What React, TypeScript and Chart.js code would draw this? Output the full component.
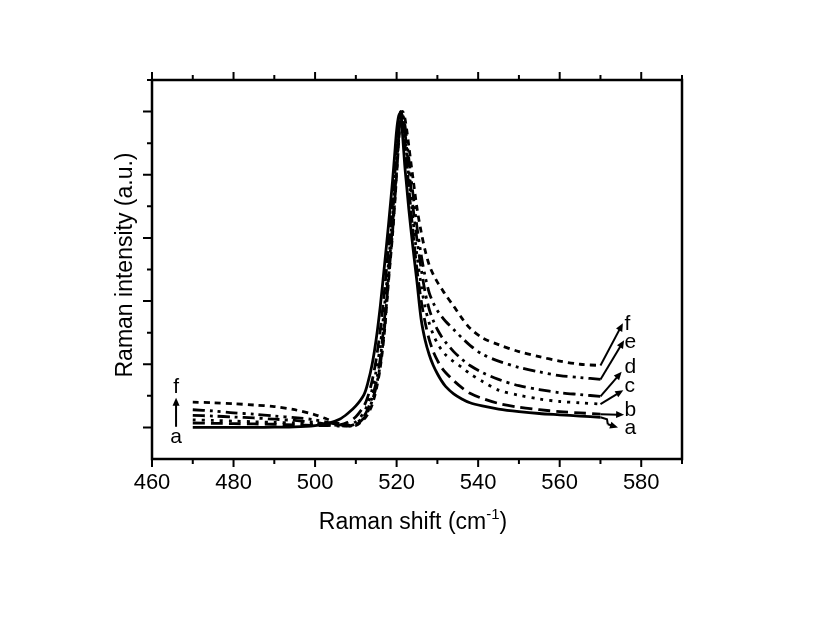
import React, { useEffect, useRef } from 'react';
import { Chart, registerables } from 'chart.js';

Chart.register(...registerables);

// ---- data ----
const RAMAN_SHIFT = [470, 475, 480, 485, 490, 495, 500, 503, 506, 508, 510, 512, 513, 514, 515, 516, 517, 518, 519, 519.5, 520, 520.5, 521, 521.5, 522, 522.5, 523, 524, 525, 526, 527, 528, 529, 530, 531, 532, 534, 536, 538, 541, 545, 550, 555, 560, 565, 570];

const CURVE_A = [0, 0, 0, 0, 0.005, 0.01, 0.03, 0.06, 0.13, 0.22, 0.34, 0.52, 0.72, 1.0, 1.4, 1.92, 2.55, 3.2, 3.9, 4.3, 4.7, 4.93, 4.98, 4.6, 4.15, 3.8, 3.45, 2.85, 2.3, 1.72, 1.38, 1.15, 0.98, 0.85, 0.74, 0.65, 0.53, 0.45, 0.39, 0.34, 0.29, 0.25, 0.22, 0.2, 0.18, 0.16];
const CURVE_B = [0.07, 0.065, 0.06, 0.055, 0.05, 0.04, 0.03, 0.03, 0.04, 0.08, 0.17, 0.34, 0.5, 0.74, 1.08, 1.55, 2.15, 2.85, 3.55, 3.95, 4.4, 4.8, 5.0, 4.85, 4.5, 4.15, 3.8, 3.1, 2.5, 2.02, 1.66, 1.39, 1.2, 1.06, 0.95, 0.87, 0.74, 0.63, 0.54, 0.46, 0.38, 0.32, 0.28, 0.25, 0.23, 0.21];
const CURVE_C = [0.12, 0.11, 0.1, 0.09, 0.08, 0.07, 0.05, 0.04, 0.02, 0.03, 0.09, 0.24, 0.39, 0.6, 0.9, 1.3, 1.9, 2.6, 3.35, 3.8, 4.25, 4.7, 5.0, 4.9, 4.6, 4.3, 3.95, 3.3, 2.72, 2.26, 1.9, 1.65, 1.47, 1.33, 1.23, 1.15, 1.04, 0.95, 0.85, 0.73, 0.59, 0.51, 0.45, 0.41, 0.39, 0.37];
const CURVE_D = [0.19, 0.18, 0.165, 0.15, 0.13, 0.11, 0.08, 0.05, 0.03, 0.02, 0.06, 0.18, 0.3, 0.48, 0.72, 1.1, 1.7, 2.45, 3.2, 3.65, 4.1, 4.6, 4.98, 4.92, 4.7, 4.4, 4.1, 3.5, 2.97, 2.52, 2.14, 1.87, 1.69, 1.55, 1.44, 1.35, 1.2, 1.08, 0.98, 0.87, 0.76, 0.66, 0.6, 0.55, 0.52, 0.49];
const CURVE_E = [0.28, 0.26, 0.23, 0.21, 0.18, 0.155, 0.12, 0.08, 0.04, 0.02, 0.04, 0.15, 0.26, 0.42, 0.65, 1.0, 1.55, 2.35, 3.1, 3.55, 4.05, 4.55, 4.97, 4.95, 4.8, 4.55, 4.25, 3.7, 3.17, 2.74, 2.39, 2.13, 1.97, 1.85, 1.76, 1.68, 1.55, 1.42, 1.3, 1.16, 1.05, 0.95, 0.88, 0.82, 0.79, 0.76];
const CURVE_F = [0.4, 0.39, 0.375, 0.355, 0.33, 0.28, 0.2, 0.13, 0.06, 0.04, 0.03, 0.13, 0.22, 0.36, 0.6, 0.95, 1.5, 2.3, 3.05, 3.5, 4.0, 4.5, 4.95, 5.0, 4.9, 4.7, 4.45, 3.95, 3.47, 3.1, 2.8, 2.57, 2.42, 2.3, 2.2, 2.1, 1.92, 1.73, 1.57, 1.42, 1.31, 1.2, 1.12, 1.05, 1.0, 0.98];

const SERIES_LABELS = ['a', 'b', 'c', 'd', 'e', 'f'];
const SERIES_DASH: number[][] = [[], [12, 6], [3, 6], [12, 5, 3, 5], [12, 5, 3, 5, 3, 5], [6, 5]];

// ---- axes ----
const X_MIN = 460;
const X_MAX = 590;
const Y_MIN = -0.5;
const Y_MAX = 5.5;
const X_MAJOR_TICKS = [460, 480, 500, 520, 540, 560, 580];
const X_MINOR_TICKS = [470, 490, 510, 530, 550, 570, 590];
const Y_MAJOR_TICKS = [0, 1, 2, 3, 4, 5];
const Y_MINOR_TICKS = [0.5, 1.5, 2.5, 3.5, 4.5, 5.5];
const X_TITLE = 'Raman shift (cm';
const X_TITLE_SUP = '-1';
const X_TITLE_END = ')';
const Y_TITLE = 'Raman intensity (a.u.)';

// ---- annotations (data units) ----
const RIGHT_TIP_X = [574.3, 575.8, 575.6, 575.2, 575.8, 575.5];
const RIGHT_TIP_Y = [0.0, 0.2, 0.59, 0.88, 1.38, 1.65];
const RIGHT_LABEL_X = 575.9;
const RIGHT_LABEL_Y = [-0.1, 0.18, 0.56, 0.86, 1.25, 1.54];
const A_KINK_X = [571.6, 571.8];
const A_KINK_Y = [0.13, 0.05];
const LEFT_ARROW_X = 465.9;
const LEFT_ARROW_Y = [0.01, 0.47];
const LEFT_LABEL_Y = [-0.24, 0.54];
const LEFT_LABELS = ['a', 'f'];

const FONT = '"Liberation Sans", Arial, Helvetica, sans-serif';

function arrowHead(ctx: CanvasRenderingContext2D, x1: number, y1: number, x2: number, y2: number) {
  const head = 8;
  const half = 3.5;
  const ang = Math.atan2(y2 - y1, x2 - x1);
  const c = Math.cos(ang);
  const s = Math.sin(ang);
  ctx.beginPath();
  ctx.moveTo(x1, y1);
  ctx.lineTo(x2 - head * 0.7 * c, y2 - head * 0.7 * s);
  ctx.stroke();
  ctx.beginPath();
  ctx.moveTo(x2, y2);
  ctx.lineTo(x2 - head * c + half * s, y2 - head * s - half * c);
  ctx.lineTo(x2 - head * c - half * s, y2 - head * s + half * c);
  ctx.closePath();
  ctx.fill();
}

const framePlugin = {
  id: 'frameAndNotes',
  afterDraw(chart: any) {
    const ctx: CanvasRenderingContext2D = chart.ctx;
    const { left, right, top, bottom } = chart.chartArea;
    const xs = chart.scales.x;
    const ys = chart.scales.y;
    ctx.save();
    ctx.strokeStyle = '#000';
    ctx.fillStyle = '#000';
    ctx.lineWidth = 2.5;
    ctx.setLineDash([]);
    ctx.strokeRect(left, top, right - left, bottom - top);

    ctx.lineWidth = 2;
    ctx.beginPath();
    for (const v of X_MAJOR_TICKS) {
      const p = xs.getPixelForValue(v);
      ctx.moveTo(p, bottom); ctx.lineTo(p, bottom + 8);
      ctx.moveTo(p, top); ctx.lineTo(p, top - 8);
    }
    for (const v of X_MINOR_TICKS) {
      const p = xs.getPixelForValue(v);
      ctx.moveTo(p, bottom); ctx.lineTo(p, bottom + 5);
      ctx.moveTo(p, top); ctx.lineTo(p, top - 5);
    }
    for (const v of Y_MAJOR_TICKS) {
      const p = ys.getPixelForValue(v);
      ctx.moveTo(left, p); ctx.lineTo(left - 9, p);
    }
    for (const v of Y_MINOR_TICKS) {
      const p = ys.getPixelForValue(v);
      ctx.moveTo(left, p); ctx.lineTo(left - 5, p);
    }
    ctx.stroke();

    // x title with superscript
    const mainFont = `23px ${FONT}`;
    const supFont = `15px ${FONT}`;
    ctx.font = mainFont;
    const w1 = ctx.measureText(X_TITLE).width;
    const w3 = ctx.measureText(X_TITLE_END).width;
    ctx.font = supFont;
    const w2 = ctx.measureText(X_TITLE_SUP).width;
    const total = w1 + w2 + w3;
    const cx = (left + right) / 2 - 4;
    const base = bottom + 70;
    let sx = cx - total / 2;
    ctx.textAlign = 'left';
    ctx.textBaseline = 'alphabetic';
    ctx.font = mainFont;
    ctx.fillText(X_TITLE, sx, base);
    sx += w1;
    ctx.font = supFont;
    ctx.fillText(X_TITLE_SUP, sx, base - 10);
    sx += w2;
    ctx.font = mainFont;
    ctx.fillText(X_TITLE_END, sx, base);

    // y title
    ctx.save();
    ctx.translate(left - 20, (top + bottom) / 2 - 4.5);
    ctx.rotate(-Math.PI / 2);
    ctx.textAlign = 'center';
    ctx.textBaseline = 'alphabetic';
    ctx.font = mainFont;
    ctx.fillText(Y_TITLE, 0, 0);
    ctx.restore();

    // right-side arrows and labels
    const series = chart.data.datasets;
    ctx.lineWidth = 2;
    ctx.font = `21px ${FONT}`;
    ctx.textAlign = 'left';
    ctx.textBaseline = 'alphabetic';
    for (let k = 0; k < SERIES_LABELS.length; k++) {
      const d = series[k].data;
      const end = d[d.length - 1];
      let x1 = xs.getPixelForValue(end.x);
      let y1 = ys.getPixelForValue(end.y);
      const x2 = xs.getPixelForValue(RIGHT_TIP_X[k]);
      const y2 = ys.getPixelForValue(RIGHT_TIP_Y[k]);
      if (k === 0) {
        ctx.beginPath();
        ctx.moveTo(x1, y1);
        for (let j = 0; j < A_KINK_X.length; j++) {
          ctx.lineTo(xs.getPixelForValue(A_KINK_X[j]), ys.getPixelForValue(A_KINK_Y[j]));
        }
        ctx.stroke();
        x1 = xs.getPixelForValue(A_KINK_X[A_KINK_X.length - 1]);
        y1 = ys.getPixelForValue(A_KINK_Y[A_KINK_Y.length - 1]);
      }
      arrowHead(ctx, x1, y1, x2, y2);
      ctx.fillText(SERIES_LABELS[k], xs.getPixelForValue(RIGHT_LABEL_X), ys.getPixelForValue(RIGHT_LABEL_Y[k]));
    }

    // left arrow a -> f
    const lx = xs.getPixelForValue(LEFT_ARROW_X);
    arrowHead(ctx, lx, ys.getPixelForValue(LEFT_ARROW_Y[0]), lx, ys.getPixelForValue(LEFT_ARROW_Y[1]));
    ctx.textAlign = 'center';
    for (let j = 0; j < LEFT_LABELS.length; j++) {
      ctx.fillText(LEFT_LABELS[j], lx, ys.getPixelForValue(LEFT_LABEL_Y[j]));
    }
    ctx.restore();
  },
};

export default function App() {
  const ref = useRef<HTMLCanvasElement>(null);
  useEffect(() => {
    if (!ref.current) return;
    const curves = [CURVE_A, CURVE_B, CURVE_C, CURVE_D, CURVE_E, CURVE_F];
    const chart = new Chart(ref.current, {
      type: 'line',
      data: {
        datasets: curves.map((vals, k) => ({
          label: SERIES_LABELS[k],
          data: RAMAN_SHIFT.map((x, i) => ({ x, y: vals[i] })),
          borderColor: '#000',
          borderWidth: 2.8,
          borderDash: SERIES_DASH[k],
          borderCapStyle: 'butt',
          pointRadius: 0,
          tension: 0.3,
          fill: false,
        })),
      },
      options: {
        responsive: false,
        animation: false,
        devicePixelRatio: 1,
        layout: { padding: { left: 0, top: 80, right: 135, bottom: 0 } },
        plugins: { legend: { display: false }, tooltip: { enabled: false }, title: { display: false } },
        scales: {
          x: {
            type: 'linear',
            position: 'bottom',
            min: X_MIN,
            max: X_MAX,
            grid: { display: false, drawTicks: false },
            border: { display: false },
            afterBuildTicks: (s: any) => { s.ticks = X_MAJOR_TICKS.map((v) => ({ value: v })); },
            afterFit: (s: any) => { s.height = 173; },
            ticks: { font: { family: FONT, size: 22 }, color: '#000', padding: 11, maxRotation: 0, autoSkip: false },
          },
          y: {
            type: 'linear',
            min: Y_MIN,
            max: Y_MAX,
            grid: { display: false, drawTicks: false },
            border: { display: false },
            ticks: { display: false },
            afterFit: (s: any) => { s.width = 152; },
          },
        },
      } as any,
      plugins: [framePlugin],
    });
    return () => chart.destroy();
  }, []);
  return (
    <div style={{ position: 'absolute', left: 0, top: 0, width: 817, height: 632, background: '#fff' }}>
      <canvas ref={ref} width={817} height={632} style={{ display: 'block' }} />
    </div>
  );
}
